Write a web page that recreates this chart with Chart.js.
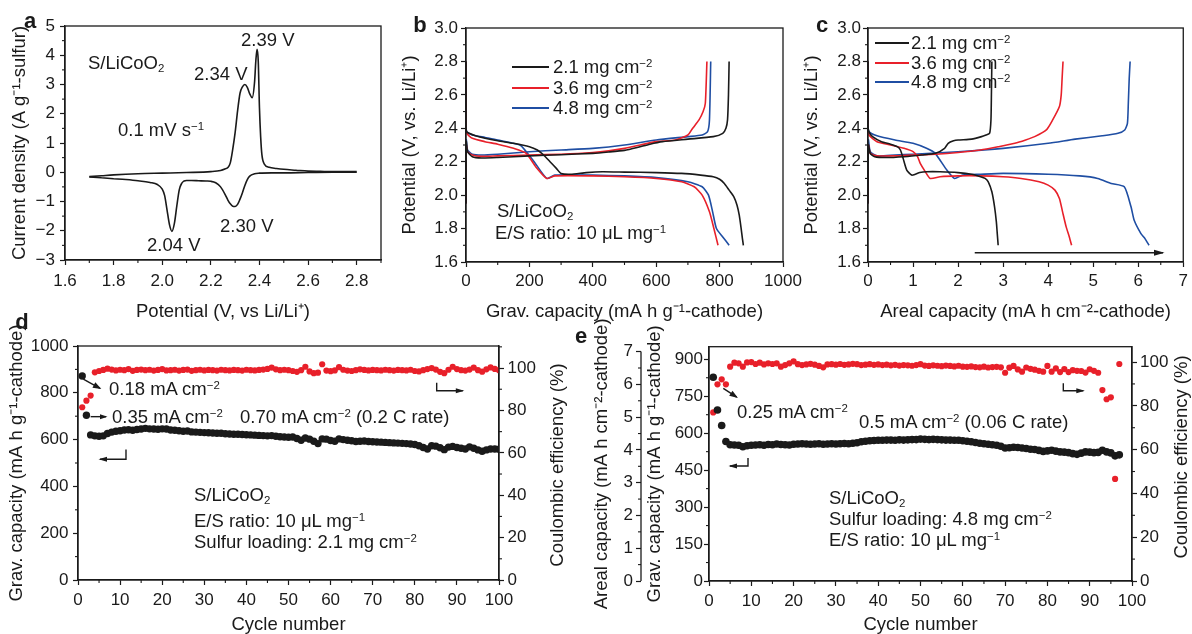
<!DOCTYPE html>
<html><head><meta charset="utf-8">
<script src="https://cdn.jsdelivr.net/npm/chart.js@4.4.1/dist/chart.umd.min.js"></script>
<style>
html,body{margin:0;padding:0;background:#fff;}
#wrap{position:relative;width:1192px;height:634px;overflow:hidden;font-family:"Liberation Sans",Arial,Helvetica,sans-serif;color:#1a1a1a;background:#fff;}
canvas{position:absolute;}
.t{position:absolute;white-space:nowrap;font-size:18.5px;line-height:1;transform:translateY(-50%);}
.t sup{font-size:0.62em;vertical-align:0;position:relative;top:-0.5em;}
.t sub{font-size:0.62em;vertical-align:0;position:relative;top:0.3em;}
.rt{position:absolute;white-space:nowrap;font-size:18.5px;line-height:20px;height:20px;width:240px;text-align:center;color:#1a1a1a;transform:translate(-120px,-10px) rotate(-90deg);}
.lt{position:absolute;font-weight:bold;font-size:22px;line-height:1;transform:translate(-50%,-50%);}
.lg{position:absolute;height:2px;}
</style></head>
<body><div id="wrap">
<canvas id="ca" width="400" height="330" style="left:0;top:0"></canvas>
<canvas id="cb" width="410" height="330" style="left:400px;top:0"></canvas>
<canvas id="cc" width="392" height="330" style="left:800px;top:0"></canvas>
<canvas id="cd" width="575" height="316" style="left:0;top:318px"></canvas>
<canvas id="ce" width="612" height="316" style="left:580px;top:318px"></canvas>

<div class="lt" style="left:30px;top:21px">a</div>
<div class="lt" style="left:420px;top:25px">b</div>
<div class="lt" style="left:822px;top:25px">c</div>
<div class="lt" style="left:22px;top:322px">d</div>
<div class="lt" style="left:581px;top:336px">e</div>

<div class="t" style="left:88px;top:63px">S/LiCoO<sub>2</sub></div>
<div class="t" style="left:241px;top:40px">2.39 V</div>
<div class="t" style="left:194px;top:74px">2.34 V</div>
<div class="t" style="left:118px;top:130px">0.1 mV s<sup>−1</sup></div>
<div class="t" style="left:147px;top:245px">2.04 V</div>
<div class="t" style="left:220px;top:226px">2.30 V</div>

<div class="lg" style="left:512px;top:66px;width:37px;background:#1a1a1a"></div>
<div class="lg" style="left:512px;top:87px;width:37px;background:#e8202a"></div>
<div class="lg" style="left:512px;top:107px;width:37px;background:#1f4ea3"></div>
<div class="t" style="left:553px;top:67px">2.1 mg cm<sup>−2</sup></div>
<div class="t" style="left:553px;top:88px">3.6 mg cm<sup>−2</sup></div>
<div class="t" style="left:553px;top:108px">4.8 mg cm<sup>−2</sup></div>
<div class="t" style="left:497px;top:211px">S/LiCoO<sub>2</sub></div>
<div class="t" style="left:495px;top:233px">E/S ratio: 10 μL mg<sup>−1</sup></div>

<div class="lg" style="left:875px;top:42px;width:34px;background:#1a1a1a"></div>
<div class="lg" style="left:875px;top:62px;width:34px;background:#e8202a"></div>
<div class="lg" style="left:875px;top:81px;width:34px;background:#1f4ea3"></div>
<div class="t" style="left:911px;top:43px">2.1 mg cm<sup>−2</sup></div>
<div class="t" style="left:911px;top:63px">3.6 mg cm<sup>−2</sup></div>
<div class="t" style="left:911px;top:82px">4.8 mg cm<sup>−2</sup></div>

<div class="t" style="left:109px;top:389px">0.18 mA cm<sup>−2</sup></div>
<div class="t" style="left:112px;top:417px">0.35 mA cm<sup>−2</sup></div>
<div class="t" style="left:240px;top:417px">0.70 mA cm<sup>−2</sup> (0.2 C rate)</div>
<div class="t" style="left:194px;top:495px">S/LiCoO<sub>2</sub></div>
<div class="t" style="left:194px;top:521px">E/S ratio: 10 μL mg<sup>−1</sup></div>
<div class="t" style="left:194px;top:542px">Sulfur loading: 2.1 mg cm<sup>−2</sup></div>
<div class="rt" style="left:557px;top:465px">Coulombic efficiency (%)</div>

<div class="t" style="left:737px;top:412px">0.25 mA cm<sup>−2</sup></div>
<div class="t" style="left:859px;top:422px">0.5 mA cm<sup>−2</sup> (0.06 C rate)</div>
<div class="t" style="left:829px;top:498px">S/LiCoO<sub>2</sub></div>
<div class="t" style="left:829px;top:519px">Sulfur loading: 4.8 mg cm<sup>−2</sup></div>
<div class="t" style="left:829px;top:540px">E/S ratio: 10 μL mg<sup>−1</sup></div>
<div class="rt" style="left:1181px;top:457px">Coulombic efficiency (%)</div>
</div>
<script>
// ---------------- DATA ----------------
// (a) cyclic voltammogram
const cvOxPot = [1.70,1.75,1.80,1.90,2.00,2.10,2.20,2.24,2.26,2.27,2.28,2.29,2.30,2.31,2.32,2.33,2.34,2.35,2.36,2.37,2.38,2.385,2.39,2.395,2.40,2.405,2.41,2.42,2.44,2.47,2.50,2.55,2.60,2.65,2.70,2.80];
const cvOxCur = [-0.15,-0.12,-0.09,-0.05,-0.03,-0.01,0.02,0.06,0.12,0.16,0.32,0.78,1.36,2.1,2.7,2.92,3.0,2.9,2.68,2.55,3.1,3.8,4.2,3.8,2.2,1.2,0.6,0.28,0.17,0.13,0.1,0.07,0.04,0.03,0.02,0.02];
const cvRedPot = [1.70,1.75,1.80,1.85,1.90,1.95,1.98,2.00,2.01,2.02,2.03,2.04,2.05,2.06,2.07,2.08,2.09,2.10,2.12,2.15,2.18,2.20,2.22,2.24,2.26,2.27,2.28,2.29,2.30,2.31,2.32,2.33,2.34,2.35,2.36,2.38,2.40,2.45,2.50,2.60,2.70,2.80];
const cvRedCur = [-0.16,-0.19,-0.22,-0.25,-0.29,-0.35,-0.42,-0.58,-0.8,-1.3,-1.8,-2.02,-1.75,-1.15,-0.6,-0.38,-0.3,-0.28,-0.28,-0.29,-0.3,-0.31,-0.36,-0.5,-0.78,-0.95,-1.08,-1.16,-1.17,-1.1,-0.92,-0.7,-0.45,-0.25,-0.13,-0.05,-0.03,-0.02,-0.02,-0.01,0,0];

// (b) gravimetric capacity (mA h g-1) vs potential (V)
const bCap21D = [0,0,2,10,30,60,100,150,200,225,245,265,285,300,330,380,430,500,600,680,740,780,800,815,830,845,855,862,868,872,875];
const bV21D   = [2.8,2.42,2.38,2.37,2.355,2.34,2.325,2.31,2.29,2.27,2.24,2.2,2.16,2.13,2.125,2.135,2.14,2.138,2.135,2.13,2.12,2.11,2.095,2.07,2.03,1.99,1.94,1.88,1.8,1.74,1.7];
const bCap21C = [0,1,5,20,50,100,200,300,400,450,500,540,580,620,700,780,810,820,825,828,830];
const bV21C   = [1.95,2.32,2.26,2.23,2.222,2.225,2.235,2.242,2.25,2.258,2.268,2.285,2.305,2.32,2.335,2.35,2.37,2.4,2.45,2.6,2.8];
const bCap36D = [0,0,2,20,60,100,150,190,220,255,280,400,500,600,680,720,745,768,782,795];
const bV36D   = [2.8,2.4,2.37,2.34,2.32,2.305,2.28,2.25,2.17,2.1,2.115,2.115,2.11,2.1,2.08,2.05,2.0,1.9,1.8,1.7];
const bCap36C = [0,1,5,20,50,100,200,300,400,450,500,550,600,660,700,715,735,748,755,760];
const bV36C   = [1.95,2.3,2.26,2.24,2.232,2.235,2.24,2.245,2.255,2.265,2.28,2.3,2.32,2.33,2.36,2.4,2.45,2.5,2.55,2.8];
const bCap48D = [0,0,2,20,60,100,170,190,215,255,280,400,500,600,700,745,765,778,790,810,830];
const bV48D   = [2.8,2.42,2.38,2.36,2.345,2.33,2.3,2.26,2.2,2.1,2.12,2.12,2.115,2.105,2.08,2.05,2.0,1.9,1.8,1.75,1.7];
const bCap48C = [0,1,5,20,50,100,200,300,400,500,600,700,745,762,768,772];
const bV48C   = [1.95,2.33,2.27,2.245,2.24,2.245,2.26,2.27,2.28,2.3,2.33,2.35,2.36,2.38,2.45,2.8];

// (c) areal capacity (mA h cm-2) vs potential (V)
const cCap21D = [0,0,0.02,0.1,0.3,0.5,0.65,0.72,0.78,0.86,0.97,1.05,1.15,1.3,1.6,2.0,2.3,2.5,2.6,2.67,2.75,2.81,2.85,2.87,2.89];
const cV21D   = [2.8,2.42,2.38,2.35,2.32,2.305,2.29,2.27,2.22,2.15,2.12,2.125,2.135,2.14,2.14,2.135,2.125,2.11,2.1,2.08,2.02,1.93,1.84,1.77,1.7];
const cCap21C = [0,0.01,0.05,0.15,0.4,0.8,1.2,1.5,1.7,1.78,1.9,2.0,2.3,2.52,2.62,2.7,2.73,2.74,2.75];
const cV21C   = [1.95,2.3,2.25,2.23,2.225,2.23,2.24,2.25,2.28,2.31,2.325,2.33,2.335,2.35,2.36,2.37,2.45,2.6,2.8];
const cCap36D = [0,0,0.02,0.2,0.5,0.8,1.0,1.1,1.16,1.25,1.38,1.6,2.0,2.5,3.0,3.4,3.8,4.0,4.15,4.25,4.32,4.4,4.47,4.52];
const cV36D   = [2.8,2.4,2.36,2.32,2.3,2.28,2.26,2.23,2.19,2.15,2.1,2.11,2.115,2.115,2.11,2.1,2.08,2.06,2.03,1.98,1.9,1.81,1.75,1.7];
const cCap36C = [0,0.01,0.05,0.2,0.6,1.0,1.5,2.0,2.5,2.9,3.26,3.5,3.7,3.96,4.1,4.25,4.29,4.31,4.33];
const cV36C   = [1.95,2.3,2.25,2.235,2.235,2.24,2.245,2.255,2.27,2.29,2.31,2.33,2.35,2.39,2.45,2.53,2.6,2.7,2.8];
const cCap48D = [0,0,0.02,0.2,0.6,1.0,1.3,1.49,1.75,1.92,2.1,2.5,3.0,4.0,4.7,5.1,5.4,5.69,5.84,5.91,6.06,6.15,6.24];
const cV48D   = [2.8,2.42,2.38,2.355,2.33,2.31,2.28,2.25,2.15,2.1,2.12,2.125,2.13,2.125,2.115,2.1,2.07,2.05,1.93,1.85,1.77,1.74,1.7];
const cCap48C = [0,0.01,0.05,0.2,0.6,1.0,2.0,3.0,4.0,4.6,5.2,5.55,5.7,5.76,5.78,5.8,5.82];
const cV48C   = [1.95,2.33,2.26,2.235,2.24,2.245,2.26,2.28,2.31,2.335,2.355,2.37,2.39,2.43,2.55,2.7,2.8];

// (d) cycling, 2.1 mg cm-2
const cyclesD = [1,2,3,4,5,6,7,8,9,10,11,12,13,14,15,16,17,18,19,20,21,22,23,24,25,26,27,28,29,30,31,32,33,34,35,36,37,38,39,40,41,42,43,44,45,46,47,48,49,50,51,52,53,54,55,56,57,58,59,60,61,62,63,64,65,66,67,68,69,70,71,72,73,74,75,76,77,78,79,80,81,82,83,84,85,86,87,88,89,90,91,92,93,94,95,96,97,98,99,100];
const capD = [872,704,620,616,614,616,626,632,636,638,641,642,640,643,645,648,646,645,644,646,645,641,640,638,636,637,633,632,631,630,629,628,627,627,625,624,623,623,622,621,620,619,618,617,616,617,614,612,611,610,611,605,597,607,602,593,583,603,602,596,593,603,600,597,595,592,593,594,592,591,590,589,588,587,586,585,584,583,581,579,574,566,560,574,572,565,557,568,571,566,563,560,569,563,556,550,556,560,560,559];
const ceD = [81.5,84.6,87.0,98.0,98.6,99.1,99.7,99.3,98.9,99.2,99.0,99.5,98.7,99.1,99.3,99.0,99.2,98.8,99.1,99.5,98.9,99.0,99.2,98.8,99.1,99.3,98.7,99.0,99.2,98.9,99.1,99.0,98.8,99.2,99.0,98.9,99.1,99.0,98.8,99.2,99.0,98.9,99.1,99.3,99.6,100.2,99.4,99.0,99.2,99.0,98.6,98.2,99.0,100.6,98.4,97.6,97.8,101.8,98.8,98.5,98.9,100.4,99.2,98.8,98.6,99.0,99.4,99.1,98.9,99.1,99.0,98.9,99.2,99.0,98.8,99.1,99.0,98.9,99.2,98.6,98.4,99.0,99.5,100.0,99.3,98.2,97.6,99.2,100.6,99.5,99.0,98.8,99.3,100.2,99.0,98.3,99.4,100.3,99.6,99.0];

// (e) cycling, 4.8 mg cm-2
const cyclesE = cyclesD.slice(0, 97);
const capE = [827,694,631,566,553,552,551,545,549,551,552,553,551,554,553,556,554,553,552,555,556,557,556,555,556,557,555,556,557,556,557,558,557,559,561,565,567,569,570,571,571,572,572,571,573,572,573,574,574,576,575,574,575,574,573,572,572,571,571,569,567,565,562,559,557,555,553,551,547,540,541,543,542,540,538,535,534,530,526,528,531,527,524,523,521,517,514,519,524,523,521,522,531,524,520,508,512];
const ceE = [77.0,89.8,92.1,89.8,97.9,99.7,99.4,97.9,99.8,100.0,99.1,99.7,98.9,99.4,99.1,99.4,97.9,98.6,99.4,100.3,99.0,98.6,98.9,99.2,98.8,98.2,97.6,98.9,99.0,98.8,99.1,98.7,98.9,99.2,99.0,98.6,98.8,99.0,98.7,98.9,98.6,98.8,98.5,98.7,98.4,98.6,98.5,98.3,98.6,99.0,98.4,98.2,98.5,98.3,98.1,98.4,98.2,98.0,98.3,97.9,97.8,98.0,97.7,97.6,97.9,97.5,97.7,97.8,97.6,95.1,97.4,98.2,96.6,95.6,97.5,96.9,96.5,96.0,95.6,98.2,95.6,97.1,95.4,96.8,95.4,96.3,96.0,95.9,95.2,96.7,96.0,95.1,87.2,83.0,83.9,46.6,99.1];

// ---------------- STYLE / HELPERS ----------------
const INK = '#1a1a1a', RED = '#e8202a', BLUE = '#1f4ea3';
const FAM = '"Liberation Sans", Arial, Helvetica, sans-serif';
const TICK = 17, TITLE = 18.5;
const zip = (xs, ys) => xs.map((x, i) => ({x, y: ys[i]}));
const fx = d => v => { const s = (Math.abs(v) < 1e-9 ? 0 : v).toFixed(d); return s.replace('-', '\u2212'); };

function axis(o) {
  return {
    type: 'linear', position: o.pos, min: o.min, max: o.max, weight: o.weight || 0,
    border: {display: o.border !== false, color: INK, width: 1.3},
    grid: {display: true, drawOnChartArea: false, drawTicks: true, tickLength: o.tl ?? 5, color: INK, tickColor: INK, tickWidth: 1.2},
    ticks: {stepSize: o.step, includeBounds: false, autoSkip: false, maxRotation: 0, minRotation: 0, color: INK,
            padding: o.tp ?? 4, font: {family: FAM, size: TICK}, callback: o.cb || fx(0)},
    title: {display: !!o.title, text: o.title, color: INK, font: {family: FAM, size: TITLE, lineHeight: 1},
            padding: {top: o.ttp || 0, bottom: o.ttp || 0}},
    afterFit: s => { if (s.isHorizontal()) s.height = o.size; else s.width = o.size; }
  };
}

const framePlugin = {
  id: 'frameMinor',
  afterDraw(chart, args, opts) {
    const ctx = chart.ctx, a = chart.chartArea;
    ctx.save();
    ctx.strokeStyle = INK; ctx.lineWidth = 1.3;
    if (opts.frame !== false) ctx.strokeRect(a.left, a.top, a.right - a.left, a.bottom - a.top);
    ctx.lineWidth = 1.1;
    for (const [id, step] of Object.entries(opts.steps || {})) {
      const s = chart.scales[id]; if (!s) continue;
      const k0 = Math.ceil(s.min / step - 1e-6), k1 = Math.floor(s.max / step + 1e-6);
      for (let k = k0; k <= k1; k++) {
        const v = k * step;
        if (s.ticks.some(t => Math.abs(t.value - v) < step * 1e-3)) continue;
        const p = s.getPixelForValue(v);
        ctx.beginPath();
        if (s.isHorizontal()) { ctx.moveTo(p, s.top); ctx.lineTo(p, s.top + 3); }
        else if (s.position === 'left') { ctx.moveTo(s.right, p); ctx.lineTo(s.right - 3, p); }
        else { ctx.moveTo(s.left, p); ctx.lineTo(s.left + 3, p); }
        ctx.stroke();
      }
    }
    ctx.lineWidth = 1.3;
    for (const ln of (opts.lines || [])) {
      const s = chart.scales[ln.axis];
      ctx.beginPath(); ctx.moveTo(s.right, s.getPixelForValue(ln.from)); ctx.lineTo(s.right, s.getPixelForValue(ln.to)); ctx.stroke();
    }
    ctx.restore();
  }
};

const arrowPlugin = {
  id: 'arrows',
  afterDatasetsDraw(chart, args, opts) {
    const ctx = chart.ctx;
    for (const a of (opts.items || [])) {
      const xs = chart.scales[a.x || 'x'], ys = chart.scales[a.y || 'y'];
      const pts = a.pts.map(p => [xs.getPixelForValue(p[0]), ys.getPixelForValue(p[1])]);
      ctx.save(); ctx.strokeStyle = INK; ctx.fillStyle = INK; ctx.lineWidth = a.w || 1.4;
      ctx.beginPath(); pts.forEach((p, i) => i ? ctx.lineTo(p[0], p[1]) : ctx.moveTo(p[0], p[1])); ctx.stroke();
      const [x2, y2] = pts[pts.length - 1], [x1, y1] = pts[pts.length - 2];
      const ang = Math.atan2(y2 - y1, x2 - x1), L = a.hl || 7, W = a.hw || 3;
      ctx.beginPath(); ctx.moveTo(x2 + 1.5 * Math.cos(ang), y2 + 1.5 * Math.sin(ang));
      ctx.lineTo(x2 - L * Math.cos(ang) + W * Math.sin(ang), y2 - L * Math.sin(ang) - W * Math.cos(ang));
      ctx.lineTo(x2 - L * Math.cos(ang) - W * Math.sin(ang), y2 - L * Math.sin(ang) + W * Math.cos(ang));
      ctx.closePath(); ctx.fill(); ctx.restore();
    }
  }
};
Chart.register(framePlugin, arrowPlugin);

const base = (pad, scales, plug) => ({
  responsive: false, animation: false, devicePixelRatio: 1, events: [],
  layout: {padding: pad},
  scales,
  plugins: Object.assign({legend: {display: false}, tooltip: {enabled: false}}, plug)
});
const line = (data, color, extra) => Object.assign({data, showLine: true, borderColor: color, borderWidth: 1.6, pointRadius: 0, tension: 0.2, fill: false}, extra || {});

// ---------------- (a) ----------------
new Chart(document.getElementById('ca'), {
  type: 'scatter',
  data: {datasets: [
    line(zip(cvOxPot, cvOxCur), INK, {cubicInterpolationMode: 'monotone'}),
    line(zip(cvRedPot, cvRedCur), INK, {cubicInterpolationMode: 'monotone'})
  ]},
  options: base({left: 0, top: 26, right: 19, bottom: 0}, {
    x: axis({pos: 'bottom', min: 1.6, max: 2.9, step: 0.2, size: 70, tp: 6.3, cb: fx(1), title: 'Potential (V, vs Li/Li\u207A)', ttp: 8.75}),
    y: axis({pos: 'left', min: -3, max: 5, step: 1, size: 65, tp: 5, cb: fx(0), title: 'Current density (A g\u207B\u00B9-sulfur)', ttp: 10.5})
  }, {frameMinor: {steps: {x: 0.1, y: 0.5}}})
});

// ---------------- (b) ----------------
new Chart(document.getElementById('cb'), {
  type: 'scatter',
  data: {datasets: [
    line(zip(bCap21D, bV21D), INK), line(zip(bCap21C, bV21C), INK),
    line(zip(bCap36D, bV36D), RED), line(zip(bCap36C, bV36C), RED),
    line(zip(bCap48D, bV48D), BLUE), line(zip(bCap48C, bV48C), BLUE)
  ]},
  options: base({left: 0, top: 28, right: 27, bottom: 0}, {
    x: axis({pos: 'bottom', min: 0, max: 1000, step: 200, size: 68, tp: 4, cb: fx(0), title: 'Grav. capacity (mA h g\u207B\u00B9-cathode)', ttp: 9}),
    y: axis({pos: 'left', min: 1.6, max: 3.0, step: 0.2, size: 66, tp: 3, cb: fx(1), title: 'Potential (V, vs. Li/Li\u207A)', ttp: 0.75})
  }, {frameMinor: {steps: {x: 100, y: 0.1}}})
});

// ---------------- (c) ----------------
new Chart(document.getElementById('cc'), {
  type: 'scatter',
  data: {datasets: [
    line(zip(cCap21D, cV21D), INK), line(zip(cCap21C, cV21C), INK),
    line(zip(cCap36D, cV36D), RED), line(zip(cCap36C, cV36C), RED),
    line(zip(cCap48D, cV48D), BLUE), line(zip(cCap48C, cV48C), BLUE)
  ]},
  options: base({left: 0, top: 28, right: 8, bottom: 0}, {
    x: axis({pos: 'bottom', min: 0, max: 7, step: 1, size: 68, tp: 4, cb: fx(0), title: 'Areal capacity (mA h cm\u207B\u00B2-cathode)', ttp: 9}),
    y: axis({pos: 'left', min: 1.6, max: 3.0, step: 0.2, size: 68, tp: 2, cb: fx(1), title: 'Potential (V, vs. Li/Li\u207A)', ttp: 2.75})
  }, {frameMinor: {steps: {x: 0.5, y: 0.1}},
      arrows: {items: [{pts: [[2.37, 1.655], [6.55, 1.655]], w: 1.6, hl: 9, hw: 3}]}})
});

// ---------------- (d) ----------------
new Chart(document.getElementById('cd'), {
  type: 'scatter',
  data: {datasets: [
    {data: zip(cyclesD, capD), yAxisID: 'y', pointRadius: 3.7, pointBackgroundColor: INK, pointBorderWidth: 0, showLine: false},
    {data: zip(cyclesD, ceD), yAxisID: 'y2', pointRadius: 3.1, pointBackgroundColor: RED, pointBorderWidth: 0, showLine: false}
  ]},
  options: base({left: 0, top: 28, right: 0, bottom: 0}, {
    x: axis({pos: 'bottom', min: 0, max: 100, step: 10, size: 54, tp: 5, title: 'Cycle number', ttp: 0}),
    y: axis({pos: 'left', min: 0, max: 1000, step: 200, size: 78, tp: 4.5, title: 'Grav. capacity (mA h g\u207B\u00B9-cathode)', ttp: 7.75}),
    y2: axis({pos: 'right', min: 0, max: 110.4, step: 20, size: 76, tp: 3.5})
  }, {frameMinor: {steps: {x: 5, y: 100, y2: 10}},
      arrows: {items: [
        {pts: [[1.26, 858], [5.23, 819]], hl: 7, hw: 3},
        {pts: [[3.0, 698], [6.65, 698]], hl: 6, hw: 2.5},
        {pts: [[11.4, 558], [11.4, 516], [5.23, 516]], hl: 7, hw: 2.5},
        {pts: [[85.2, 93.1], [85.2, 89.3], [91.4, 89.3]], y: 'y2', hl: 7, hw: 2.5}
      ]}})
});

// ---------------- (e) ----------------
new Chart(document.getElementById('ce'), {
  type: 'scatter',
  data: {datasets: [
    {data: zip(cyclesE, capE), yAxisID: 'y', pointRadius: 3.8, pointBackgroundColor: INK, pointBorderWidth: 0, showLine: false},
    {data: zip(cyclesE, ceE), yAxisID: 'y2', pointRadius: 3.1, pointBackgroundColor: RED, pointBorderWidth: 0, showLine: false}
  ]},
  options: base({left: 0, top: 28.7, right: 0, bottom: 0}, {
    x: axis({pos: 'bottom', min: 0, max: 100, step: 10, size: 53, tp: 5, title: 'Cycle number', ttp: 0}),
    ya: axis({pos: 'left', min: 0, max: 7.15, step: 1, size: 61, tp: 3, weight: 1, border: false, title: 'Areal capacity (mA h cm\u207B\u00B2-cathode)', ttp: 12.75}),
    y: axis({pos: 'left', min: 0, max: 951, step: 150, size: 68, tp: 1, weight: 0, title: 'Grav. capacity (mA h g\u207B\u00B9-cathode)', ttp: 4.75}),
    y2: axis({pos: 'right', min: 0, max: 107, step: 20, size: 60, tp: 3, tl: 5})
  }, {frameMinor: {steps: {x: 5, y: 75, ya: 0.5, y2: 10}, lines: [{axis: 'ya', from: 0, to: 7}]},
      arrows: {items: [
        {pts: [[3.38, 782], [6.55, 746]], hl: 7, hw: 3},
        {pts: [[9.22, 499], [9.22, 467], [4.96, 467]], hl: 7, hw: 2.5},
        {pts: [[83.76, 90.3], [83.76, 86.9], [88.49, 86.9]], y: 'y2', hl: 7, hw: 2.5}
      ]}})
});
</script>
</body></html>
